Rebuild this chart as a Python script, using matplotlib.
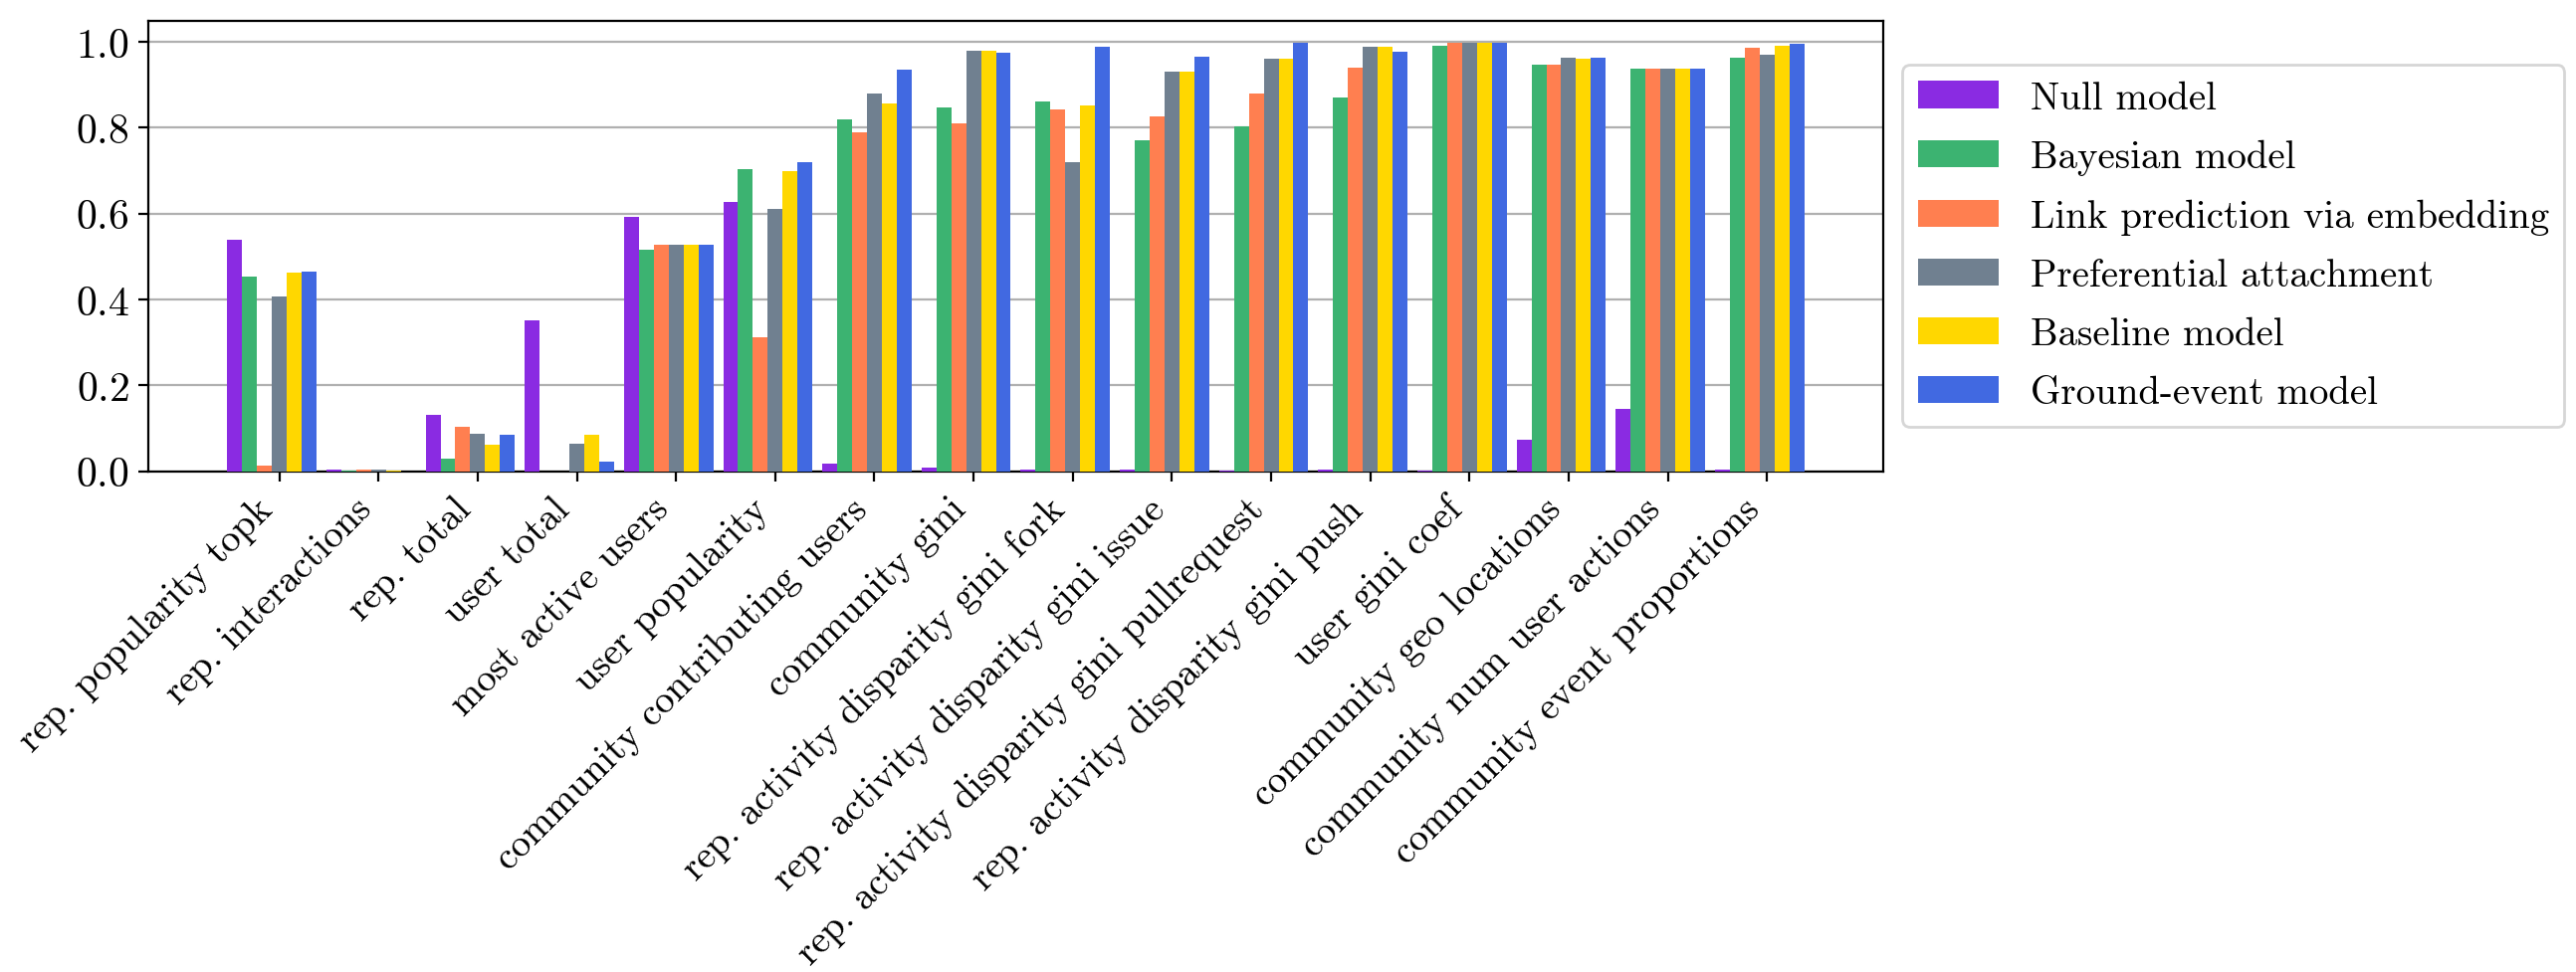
import numpy as np
import matplotlib
matplotlib.use("Agg")
import matplotlib.pyplot as plt

plt.rcParams['font.family'] = 'serif'
plt.rcParams['font.serif'] = ['cmr10']
plt.rcParams['mathtext.fontset'] = 'cm'
plt.rcParams['axes.formatter.use_mathtext'] = True
plt.rcParams['axes.unicode_minus'] = False

categories = [
    "rep. popularity topk", "rep. interactions", "rep. total", "user total",
    "most active users", "user popularity", "community contributing users",
    "community gini", "rep. activity disparity gini fork",
    "rep. activity disparity gini issue", "rep. activity disparity gini pullrequest",
    "rep. activity disparity gini push", "user gini coef",
    "community geo locations", "community num user actions",
    "community event proportions",
]

series_names = ["Null model", "Bayesian model", "Link prediction via embedding",
                "Preferential attachment", "Baseline model", "Ground-event model"]
colors = ["#8A2BE2", "#3CB371", "#FF7F50", "#708090", "#FFD700", "#4169E1"]

null_model = [0.539, 0.005, 0.131, 0.351, 0.593, 0.628, 0.019, 0.0085, 0.004, 0.004,
              0.002, 0.004, 0.001, 0.074, 0.145, 0.005]
bayesian = [0.454, 0.002, 0.029, 0.0, 0.517, 0.703, 0.820, 0.848, 0.862, 0.772,
            0.804, 0.871, 0.991, 0.946, 0.937, 0.964]
link_pred = [0.013, 0.004, 0.103, 0.0, 0.527, 0.311, 0.790, 0.811, 0.842, 0.826,
             0.880, 0.940, 0.999, 0.948, 0.937, 0.986]
pref_attach = [0.406, 0.003, 0.087, 0.064, 0.527, 0.612, 0.879, 0.980, 0.719, 0.930,
               0.961, 0.989, 0.999, 0.962, 0.937, 0.969]
baseline = [0.462, 0.001, 0.063, 0.085, 0.527, 0.699, 0.857, 0.979, 0.851, 0.930,
            0.961, 0.989, 0.999, 0.961, 0.937, 0.991]
ground_event = [0.465, 0.0, 0.085, 0.022, 0.527, 0.719, 0.935, 0.974, 0.988, 0.966,
                0.999, 0.978, 0.999, 0.963, 0.937, 0.996]

series = [null_model, bayesian, link_pred, pref_attach, baseline, ground_event]

fig = plt.figure(figsize=(12.94, 4.89), dpi=200)
ax = fig.add_axes([0.0576, 0.5146, 0.731 - 0.0576, 0.978 - 0.5146])

x = np.arange(len(categories))
w = 0.15
for i, (vals, name, c) in enumerate(zip(series, series_names, colors)):
    ax.bar(x + (i - 3) * w, vals, width=w, color=c, label=name, zorder=3)

ax.set_xticks(x)
ax.set_xticklabels(categories, rotation=45, ha='right', fontsize=14)
ax.tick_params(axis='y', labelsize=15)
ax.set_ylim(0, 1.05)
ax.set_yticks([0.0, 0.2, 0.4, 0.6, 0.8, 1.0])
ax.yaxis.grid(True, color='#b0b0b0', linewidth=0.8, zorder=0)
ax.set_axisbelow(True)

ax.legend(loc='center left', bbox_to_anchor=(1.0, 0.5), fontsize=14,
          labelspacing=0.6, handlelength=2.1)

fig.savefig("out.png", dpi=200)
